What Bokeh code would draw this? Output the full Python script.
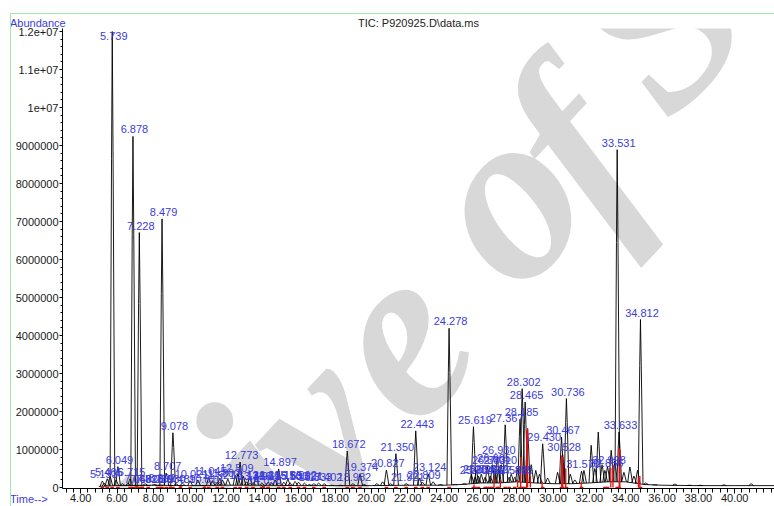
import numpy as np
from bokeh.plotting import figure
from bokeh.models import Range1d, FixedTicker, Label, Title, Div
from bokeh.layouts import column
from bokeh.embed import file_html
from bokeh.resources import INLINE
from bokeh.core.properties import value

# ---- labelled peaks (retention time, abundance) ----
peak_rt = [5.193, 5.465, 5.739, 6.049, 6.715, 6.878, 7.068, 7.228, 7.402, 7.715,
           8.230, 8.392, 8.479, 8.707, 8.930, 9.078, 9.489, 10.021, 10.810, 11.045,
           11.521, 11.802, 12.509, 12.773, 13.131, 13.486, 13.969, 14.053, 14.315, 14.897,
           15.185, 15.533, 15.992, 16.321, 16.833, 17.402, 18.672, 18.982, 19.374, 20.827,
           21.350, 21.921, 22.443, 22.809, 23.124, 24.278, 25.619, 25.704, 25.893, 26.261,
           26.383, 26.542, 26.665, 26.930, 27.010, 27.367, 27.583, 27.895, 28.185, 28.302,
           28.465, 29.430, 30.467, 30.528, 30.736, 31.570, 32.856, 32.998, 33.531, 33.633,
           34.812]
peak_height = [0.17e6, 0.23e6, 12.0e6, 0.55e6, 0.23e6, 9.24e6, 0.03e6, 6.71e6, 0.04e6, 0.05e6,
               0.05e6, 0.06e6, 7.07e6, 0.38e6, 0.04e6, 1.44e6, 0.03e6, 0.18e6, 0.04e6, 0.26e6,
               0.14e6, 0.20e6, 0.32e6, 0.67e6, 0.15e6, 0.13e6, 0.12e6, 0.02e6, 0.14e6, 0.49e6,
               0.14e6, 0.12e6, 0.14e6, 0.12e6, 0.10e6, 0.10e6, 0.96e6, 0.10e6, 0.36e6, 0.46e6,
               0.89e6, 0.10e6, 1.49e6, 0.14e6, 0.36e6, 4.19e6, 1.60e6, 0.27e6, 0.30e6, 0.27e6,
               0.55e6, 0.30e6, 0.60e6, 0.80e6, 0.55e6, 1.65e6, 0.27e6, 0.27e6, 1.80e6, 2.60e6,
               2.25e6, 1.15e6, 1.33e6, 0.87e6, 2.34e6, 0.43e6, 0.45e6, 0.55e6, 8.89e6, 1.46e6,
               4.42e6]
peak_labels = [f"{t:.3f}" for t in peak_rt]

# ---- unlabelled peaks ----
minor_rt = [5.30, 5.62, 5.95, 6.30, 6.60, 7.55, 8.05, 9.25, 9.60, 10.45,
            11.25, 11.65, 12.10, 12.65, 12.95, 13.30, 13.65, 14.50, 14.70, 15.40,
            15.80, 16.60, 17.10, 17.80, 18.30, 19.60, 20.30, 20.62, 21.05, 22.65,
            23.40, 23.80, 24.60, 25.10, 25.50, 25.78, 26.05, 26.80, 27.15, 27.70,
            28.05, 28.60, 28.80, 29.05, 29.25, 29.70, 30.25, 30.95, 31.20, 31.70,
            32.10, 32.30, 32.49, 32.70, 33.20, 33.40, 33.90, 34.23, 34.45, 34.65,
            35.10, 35.60, 36.70, 37.50, 38.10, 39.40, 40.90]
minor_height = [0.12e6, 0.30e6, 0.20e6, 0.10e6, 0.12e6, 0.10e6, 0.08e6, 0.10e6, 0.12e6, 0.20e6,
                0.18e6, 0.25e6, 0.22e6, 0.35e6, 0.30e6, 0.28e6, 0.30e6, 0.12e6, 0.20e6, 0.22e6,
                0.16e6, 0.08e6, 0.12e6, 0.06e6, 0.06e6, 0.08e6, 0.10e6, 0.15e6, 0.10e6, 0.25e6,
                0.15e6, 0.08e6, 0.08e6, 0.10e6, 0.35e6, 0.45e6, 0.35e6, 0.45e6, 0.60e6, 0.35e6,
                0.50e6, 1.55e6, 0.60e6, 0.45e6, 0.35e6, 0.25e6, 0.40e6, 0.35e6, 0.20e6, 0.45e6,
                1.11e6, 0.50e6, 1.46e6, 0.60e6, 0.98e6, 0.70e6, 0.40e6, 0.54e6, 0.30e6, 0.45e6,
                0.12e6, 0.07e6, 0.09e6, 0.06e6, 0.06e6, 0.07e6, 0.10e6]

# ---- baseline of the trace ----
base_rt = [5.0, 6.0, 8.0, 10.0, 12.0, 14.0, 16.0, 18.0, 20.0, 22.0, 24.0, 25.0, 26.0,
           27.0, 28.0, 29.0, 30.0, 31.0, 32.0, 33.0, 34.0, 35.0, 36.0, 38.0, 40.0, 42.2]
base_level = [0.03e6, 0.05e6, 0.06e6, 0.05e6, 0.06e6, 0.06e6, 0.05e6, 0.05e6, 0.05e6, 0.06e6,
              0.06e6, 0.08e6, 0.12e6, 0.12e6, 0.15e6, 0.12e6, 0.10e6, 0.10e6, 0.12e6, 0.15e6,
              0.15e6, 0.08e6, 0.06e6, 0.05e6, 0.05e6, 0.05e6]

# ---- integration marks (red) ----
integ_rt = [25.65, 26.75, 27.10, 28.05, 28.22, 28.55, 28.60, 28.75, 29.40, 30.48,
            30.53, 30.70, 31.55, 33.18, 33.30, 33.64, 33.68, 34.70, 34.78]
integ_height = [0.08e6, 0.27e6, 0.20e6, 0.20e6, 0.80e6, 1.50e6, 1.55e6, 0.30e6, 0.15e6, 0.84e6,
                0.80e6, 0.50e6, 0.15e6, 0.52e6, 0.60e6, 1.03e6, 1.00e6, 0.27e6, 0.30e6]

# ---- ticks ----
x_tick_values = [4, 6, 8, 10, 12, 14, 16, 18, 20, 22, 24, 26, 28, 30, 32, 34, 36, 38, 40]
x_tick_labels = ["4.00", "6.00", "8.00", "10.00", "12.00", "14.00", "16.00", "18.00", "20.00",
                 "22.00", "24.00", "26.00", "28.00", "30.00", "32.00", "34.00", "36.00",
                 "38.00", "40.00"]
y_tick_values = [0, 1000000, 2000000, 3000000, 4000000, 5000000, 6000000, 7000000,
                 8000000, 9000000, 10000000, 11000000, 12000000]
y_tick_labels = ["0", "1000000", "2000000", "3000000", "4000000", "5000000", "6000000",
                 "7000000", "8000000", "9000000", "1e+07", "1.1e+07", "1.2e+07"]

# watermark letters (page-pixel centres)
wm_letters = ["h", "i", "v", "e", "o", "f", "S"]
wm_px = [195, 255, 311, 393, 500, 570, 655]
wm_py = [530, 478, 428, 338, 196, 146, 18]

FONT = "Liberation Sans"
BLUE = "#3b3bdc"
FL, FB = 62, 488  # frame left / bottom in page pixels

p = figure(width=774, height=506, output_backend="svg", toolbar_location=None,
           x_range=Range1d(3.0, 42.19), y_range=Range1d(-0.026e6, 12.079e6),
           min_border_left=62, min_border_right=0, min_border_top=28, min_border_bottom=18)
p.outline_line_color = None
p.xgrid.visible = False
p.ygrid.visible = False
p.background_fill_color = "white"
p.border_fill_color = "white"

# watermark (under the data)
for ch, px, py in zip(wm_letters, wm_px, wm_py):
    p.add_layout(Label(x=px - FL, y=FB - py, x_units="screen", y_units="screen", text=ch,
                       angle=0.82, text_align="center", text_baseline="middle",
                       text_font="Liberation Serif", text_font_style="bold italic",
                       text_font_size="245px", text_color="#d8d8d8", level="underlay"))

# trace
p.line(base_rt, base_level, line_color="black", line_width=0.9)
dx = [-0.12, -0.04, 0.0, 0.045, 0.14]
fr = [0.0, 0.72, 1.0, 0.72, 0.0]
xs, ys = [], []
for t, h in zip(peak_rt + minor_rt, peak_height + minor_height):
    b = float(np.interp(t, base_rt, base_level))
    xs.append([t + d for d in dx])
    ys.append([b + f * (h - b) for f in fr])
p.multi_line(xs, ys, line_color="black", line_width=0.9)

# integration marks
p.segment(x0=integ_rt, y0=[0] * len(integ_rt), x1=integ_rt, y1=integ_height,
          line_color="#e01010", line_width=1.3)
p.segment(x0=[t - 0.1 for t in peak_rt], y0=[0] * len(peak_rt),
          x1=[t + 0.1 for t in peak_rt], y1=[0] * len(peak_rt),
          line_color="#e01010", line_width=1.4)

# peak labels
label_y = [min(h, 11.7e6) for h in peak_height]
p.text(x=peak_rt, y=label_y, text=peak_labels, text_font=value(FONT),
       text_font_size="11px", text_color=BLUE, text_align="center",
       text_baseline="middle", x_offset=1.5, y_offset=-7)

# axes
xa = p.xaxis[0]
xa.ticker = FixedTicker(ticks=x_tick_values, minor_ticks=list(np.arange(3.2, 42.2, 0.4)))
xa.major_label_overrides = dict(zip(x_tick_values, x_tick_labels))
ya = p.yaxis[0]
ya.ticker = FixedTicker(ticks=y_tick_values, minor_ticks=list(np.arange(0, 12.0e6 + 1, 0.2e6)))
ya.major_label_overrides = dict(zip(y_tick_values, y_tick_labels))
for ax in (xa, ya):
    ax.axis_line_color = "black"
    ax.major_tick_line_color = "black"
    ax.minor_tick_line_color = "black"
    ax.major_tick_in = 0
    ax.minor_tick_in = 0
    ax.major_label_text_font = FONT
    ax.major_label_text_font_size = "11px"
    ax.major_label_text_color = "#1a1a1a"
xa.major_tick_out = 5
xa.minor_tick_out = 4
xa.major_label_standoff = 0
ya.major_tick_out = 3
ya.minor_tick_out = 2
ya.major_label_standoff = 1

# header title
p.add_layout(Title(text="TIC: P920925.D\\data.ms", align="center", text_font=FONT,
                   text_font_size="11px", text_font_style="normal", text_color="#222222",
                   standoff=0, offset=0), "above")

# captions outside the plotting frame (absolutely positioned HTML)
span = '<span style="font-family:\'Liberation Sans\';font-size:11px;line-height:13px;color:%s;white-space:nowrap;">%s</span>'
abund = Div(text=span % (BLUE, "Abundance"),
            styles={"position": "absolute", "left": "10px", "top": "15px", "margin": "0"})
timecap = Div(text=span % (BLUE, "Time--&gt;"),
              styles={"position": "absolute", "left": "10px", "top": "491px", "margin": "0"})
frame_lines = Div(text="", width=764, height=493,
                  styles={"position": "absolute", "left": "10px", "top": "13px",
                          "border-top": "1px solid #a6e8a6", "border-left": "1px solid #a6e8a6",
                          "box-sizing": "border-box", "pointer-events": "none", "margin": "0"})

layout = column(p, abund, timecap, frame_lines)
open("out.html", "w").write(file_html(layout, INLINE))
